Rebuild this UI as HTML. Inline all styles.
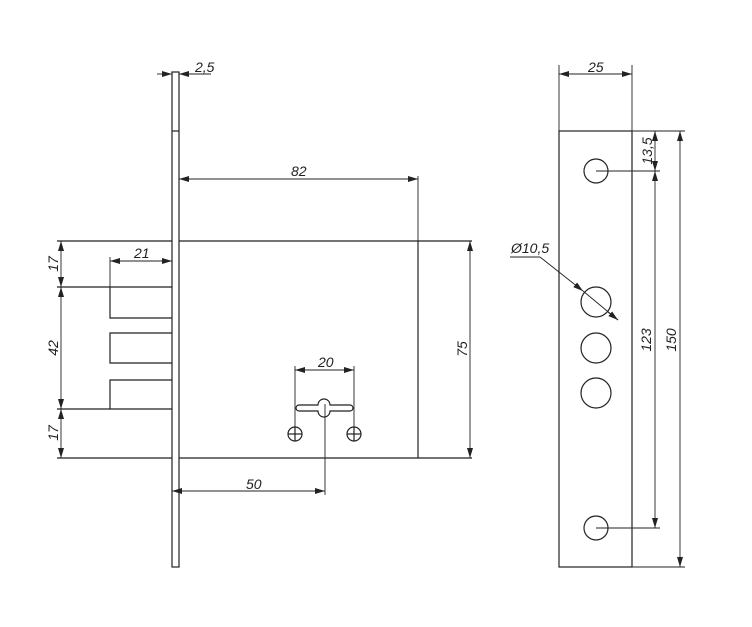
<!DOCTYPE html>
<html><head><meta charset="utf-8"><style>
html,body{margin:0;padding:0;background:#fff;}
svg{display:block;}
text{font-family:"Liberation Sans",sans-serif;font-style:italic;font-size:14px;fill:#222;}
</style></head><body>
<svg width="752" height="627" viewBox="0 0 752 627" xmlns="http://www.w3.org/2000/svg">
<defs>
<marker id="a" viewBox="0 0 10 6" refX="10" refY="3" markerWidth="10" markerHeight="6" orient="auto-start-reverse" markerUnits="userSpaceOnUse"><path d="M0,0 L10,3 L0,6 z" fill="#222"/></marker>
</defs>
<g stroke="#222" stroke-width="1.2" fill="none">
<!-- faceplate -->
<rect x="172" y="72" width="7" height="495"/>
<line x1="172" y1="131" x2="179" y2="131"/>
<!-- body -->
<line x1="179" y1="241" x2="472" y2="241"/>
<line x1="179" y1="458" x2="472" y2="458"/>
<line x1="418" y1="241" x2="418" y2="458"/>
<line x1="57" y1="241" x2="172" y2="241"/>
<line x1="57" y1="458" x2="172" y2="458"/>
<!-- bolts -->
<path d="M172,287 H110 V318 H172"/>
<path d="M172,333 H110 V363 H172"/>
<path d="M172,380 H110 V409 H172"/>
<line x1="57" y1="287" x2="110" y2="287"/>
<line x1="57" y1="409" x2="110" y2="409"/>
<!-- keyhole -->
<path d="M299,405 H318 A6,6 0 1 1 330,405 H350 A3,3 0 0 1 350,411 H330 A6,6 0 1 1 318,411 H299 A3,3 0 0 1 299,405 Z"/>
<circle cx="295" cy="434" r="7"/><line x1="288" y1="434" x2="302" y2="434"/><line x1="295" y1="427" x2="295" y2="441"/>
<circle cx="354" cy="434" r="7"/><line x1="347" y1="434" x2="361" y2="434"/><line x1="354" y1="427" x2="354" y2="441"/>
</g>
<g stroke="#222" stroke-width="0.9" fill="none">
<!-- 2,5 -->
<line x1="157" y1="74" x2="172" y2="74" marker-end="url(#a)"/>
<line x1="179" y1="74" x2="211" y2="74" marker-start="url(#a)"/>
<!-- 82 -->
<line x1="179" y1="179" x2="418" y2="179" marker-start="url(#a)" marker-end="url(#a)"/>
<line x1="418" y1="176" x2="418" y2="241"/>
<!-- 21 -->
<line x1="110" y1="261" x2="172" y2="261" marker-start="url(#a)" marker-end="url(#a)"/>
<line x1="110" y1="257" x2="110" y2="287"/>
<!-- left vertical -->
<line x1="61" y1="241" x2="61" y2="287" marker-start="url(#a)" marker-end="url(#a)"/>
<line x1="61" y1="287" x2="61" y2="409" marker-start="url(#a)" marker-end="url(#a)"/>
<line x1="61" y1="409" x2="61" y2="458" marker-start="url(#a)" marker-end="url(#a)"/>
<!-- 75 -->
<line x1="470" y1="241" x2="470" y2="458" marker-start="url(#a)" marker-end="url(#a)"/>
<!-- 20 -->
<line x1="295" y1="370" x2="354" y2="370" marker-start="url(#a)" marker-end="url(#a)"/>
<line x1="295" y1="366" x2="295" y2="434"/>
<line x1="354" y1="366" x2="354" y2="434"/>
<!-- 50 -->
<line x1="172" y1="491" x2="325" y2="491" marker-start="url(#a)" marker-end="url(#a)"/>
<line x1="325" y1="404" x2="325" y2="495"/>
</g>
<text x="195" y="72">2,5</text>
<text x="291" y="176">82</text>
<text x="134" y="258">21</text>
<text x="318" y="367">20</text>
<text x="246" y="489">50</text>
<text transform="translate(58,264) rotate(-90)" text-anchor="middle">17</text>
<text transform="translate(58,348) rotate(-90)" text-anchor="middle">42</text>
<text transform="translate(58,433) rotate(-90)" text-anchor="middle">17</text>
<text transform="translate(467,349) rotate(-90)" text-anchor="middle">75</text>

<!-- right view -->
<g stroke="#222" stroke-width="1.2" fill="none">
<rect x="559" y="131" width="73" height="436"/>
<circle cx="596" cy="171" r="12"/>
<circle cx="596" cy="302" r="15"/>
<circle cx="596" cy="348" r="15"/>
<circle cx="596" cy="393" r="15"/>
<circle cx="596" cy="528" r="12"/>
</g>
<g stroke="#222" stroke-width="0.9" fill="none">
<line x1="559" y1="74" x2="632" y2="74" marker-start="url(#a)" marker-end="url(#a)"/>
<line x1="559" y1="65" x2="559" y2="131"/>
<line x1="632" y1="65" x2="632" y2="131"/>
<line x1="632" y1="131" x2="685" y2="131"/>
<line x1="632" y1="567" x2="685" y2="567"/>
<line x1="596" y1="171" x2="660" y2="171"/>
<line x1="596" y1="528" x2="660" y2="528"/>
<line x1="655" y1="131" x2="655" y2="171" marker-start="url(#a)" marker-end="url(#a)"/>
<line x1="655" y1="171" x2="655" y2="528" marker-start="url(#a)" marker-end="url(#a)"/>
<line x1="680" y1="131" x2="680" y2="567" marker-start="url(#a)" marker-end="url(#a)"/>
<line x1="510" y1="257" x2="540" y2="257"/>
<line x1="540" y1="257" x2="583" y2="291" marker-end="url(#a)"/>
<line x1="583" y1="291" x2="618" y2="320"/>
<line x1="608" y1="312" x2="618" y2="320" marker-end="url(#a)"/>
</g>
<text x="588" y="72">25</text>
<text x="511" y="253">Ø10,5</text>
<text transform="translate(652,151) rotate(-90)" text-anchor="middle">13,5</text>
<text transform="translate(651,340) rotate(-90)" text-anchor="middle">123</text>
<text transform="translate(676,340) rotate(-90)" text-anchor="middle">150</text>
</svg>
</body></html>
